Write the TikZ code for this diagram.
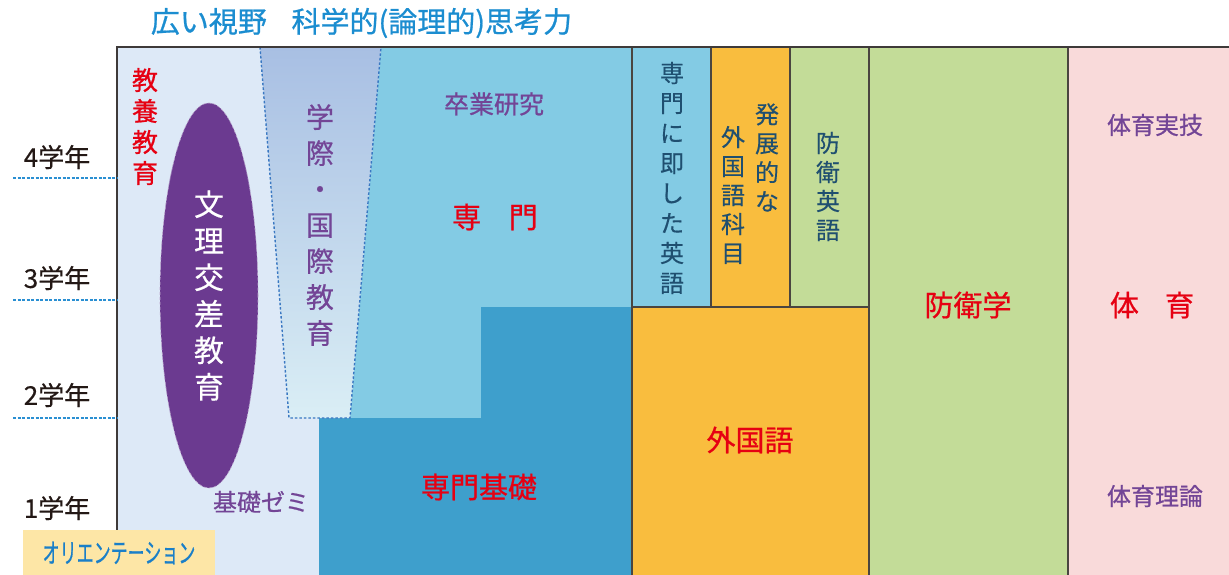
\documentclass[tikz,border=0pt]{standalone}
\usepackage{fontspec}
\setmainfont{Noto Sans CJK JP}
\newfontfamily\jpm{Noto Sans CJK JP}[FakeBold=0.7]
\newfontfamily\jpl{Noto Sans CJK JP}[FakeBold=0.35]
\usetikzlibrary{shapes.geometric}
\definecolor{cBgL}{HTML}{DDE9F7}
\definecolor{cSen}{HTML}{83CBE4}
\definecolor{cKiso}{HTML}{3E9FCC}
\definecolor{cOra}{HTML}{F9BD3E}
\definecolor{cGre}{HTML}{C3DC98}
\definecolor{cPin}{HTML}{F9DADA}
\definecolor{cEll}{HTML}{6B3A90}
\definecolor{cTrapT}{HTML}{A8BFE3}
\definecolor{cTrapB}{HTML}{DAEEF5}
\definecolor{cDash}{HTML}{3A78C2}
\definecolor{cLine}{HTML}{4A4540}
\definecolor{cFrame}{HTML}{3E3A39}
\definecolor{cYear}{HTML}{2A8FD2}
\definecolor{cRed}{HTML}{E60012}
\definecolor{cPur}{HTML}{734596}
\definecolor{cNavy}{HTML}{1F4F70}
\definecolor{cTitle}{HTML}{1B8DD0}
\definecolor{cOri}{HTML}{FDE6A6}
\definecolor{cOriT}{HTML}{1A7FC8}
\definecolor{cTxt}{HTML}{231815}
\begin{document}
\begin{tikzpicture}[x=1pt,y=-1pt,
  colline/.style={draw=cLine, line width=1.5pt},
  frameline/.style={draw=cFrame, line width=2.5pt},
  yeardash/.style={draw=cYear, line width=1.2pt, dash pattern=on 3pt off 1.5pt},
  lbl/.style={inner sep=0pt, outer sep=0pt},
  redlbl/.style={lbl, text=cRed, font=\jpm\fontsize{29}{35}\selectfont},
  purlbl/.style={lbl, text=cPur, font=\jpm\fontsize{24}{29}\selectfont},
  yearlbl/.style={lbl, text=cTxt, font=\jpl\fontsize{26}{31}\selectfont},
  vnavy/.style={lbl, align=center, text=cNavy},
]
\useasboundingbox (0,0) rectangle (1229,575);
% background areas
\fill[cBgL] (117,47) rectangle (632,575);
\fill[cSen] (381,47) -- (632,47) -- (632,418) -- (350,418) -- cycle;
\fill[cKiso] (319,575) -- (319,418) -- (481,418) -- (481,307) -- (632,307) -- (632,575) -- cycle;
\shade[top color=cTrapT, bottom color=cTrapB] (260,47) -- (381,47) -- (350,418) -- (289,418) -- cycle;
\draw[draw=cDash, line width=1.4pt, dash pattern=on 2.5pt off 2pt] (260,47) -- (289,418) -- (350,418) -- (381,47);
% columns
\fill[cSen] (632,47) rectangle (711,307);
\fill[cOra] (711,47) rectangle (790,307);
\fill[cGre] (790,47) rectangle (869,307);
\fill[cOra] (632,307) rectangle (869,575);
\fill[cGre] (869,47) rectangle (1068,575);
\fill[cPin] (1068,47) rectangle (1229,575);
\draw[colline] (632,47) -- (632,575);
\draw[colline] (711,47) -- (711,307);
\draw[colline] (790,47) -- (790,307);
\draw[colline] (632,307) -- (869,307);
\draw[colline] (869,47) -- (869,575);
\draw[colline] (1068,47) -- (1068,575);
\draw[frameline] (117,530) -- (117,47) -- (1229,47);
% year dashed lines
\draw[yeardash] (13,178) -- (117,178);
\draw[yeardash] (13,300) -- (117,300);
\draw[yeardash] (13,418) -- (117,418);
% ellipse
\node[ellipse, fill=cEll, draw=white!55!cEll, line width=0.6pt, densely dashed,
  minimum width=98pt, minimum height=385pt, inner sep=0pt, align=center,
  text=white, font=\jpl\fontsize{30}{36.5}\selectfont] (bunri) at (209,295.5)
  {文\\理\\交\\差\\教\\育};
% orientation box
\node[lbl, fill=cOri, minimum width=192pt, minimum height=45pt] (oribox) at (119,552.5) {};
\node[lbl, text=cOriT, font=\jpm\fontsize{27}{32}\selectfont, xscale=0.63] (ori) at (119,553) {オリエンテーション};
% title
\node[lbl, text=cTitle, font=\jpm\fontsize{29}{34}\selectfont] (title) at (361.5,23) {広い視野\hspace{0.85em}科学的(論理的)思考力};
% years
\node[yearlbl] (y4) at (57,157) {4学年};
\node[yearlbl] (y3) at (57,278) {3学年};
\node[yearlbl] (y2) at (57,395) {2学年};
\node[yearlbl] (y1) at (57,508) {1学年};
% left texts
\node[lbl, align=center, text=cRed, font=\jpm\fontsize{26}{31}\selectfont] (kyoyo) at (145,126.5) {教\\養\\教\\育};
\node[lbl, align=center, text=cPur, font=\jpl\fontsize{28}{36}\selectfont] (gakusai) at (320,225) {学\\際\\・\\国\\際\\教\\育};
\node[purlbl, font=\jpm\fontsize{25}{30}\selectfont] (sotsu) at (494,104) {卒業研究};
\node[redlbl] (senmon) at (495,217) {専\hspace{0.95em}門};
\node[redlbl] (kiso) at (479,487) {専門基礎};
\node[purlbl] (zemi) at (261,502) {基礎ゼミ};
% column texts
\node[vnavy, font=\jpl\fontsize{24}{30}\selectfont] (sokuei) at (672,178) {専\\門\\に\\即\\し\\た\\英\\語};
\node[vnavy, font=\jpl\fontsize{24}{29}\selectfont] (hatten) at (767,157.5) {発\\展\\的\\な};
\node[vnavy, font=\jpl\fontsize{24}{29}\selectfont] (gaikamoku) at (733,195) {外\\国\\語\\科\\目};
\node[vnavy, font=\jpl\fontsize{24}{29}\selectfont] (boei) at (828,186.5) {防\\衛\\英\\語};
\node[redlbl] (gaikoku) at (750,440) {外国語};
\node[redlbl] (boeigaku) at (968,305) {防衛学};
\node[purlbl] (jitsugi) at (1155,125) {体育実技};
\node[redlbl] (taiiku) at (1152,305) {体\hspace{0.9em}育};
\node[purlbl] (riron) at (1155,496) {体育理論};
\end{tikzpicture}
\end{document}
